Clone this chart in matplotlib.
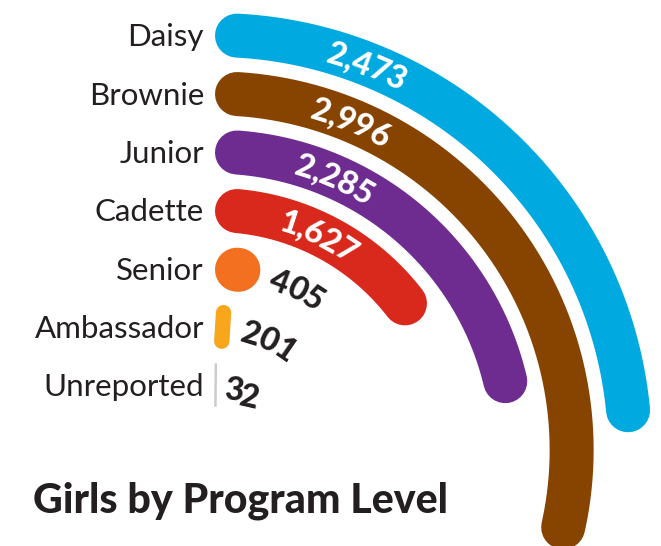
import numpy as np
import matplotlib.pyplot as plt
from matplotlib.font_manager import FontProperties

levels = ['Daisy', 'Brownie', 'Junior', 'Cadette', 'Senior', 'Ambassador', 'Unreported']
girls = [2473, 2996, 2285, 1627, 405, 201, 32]
value_labels = ['2,473', '2,996', '2,285', '1,627', '405', '201', '32']
colors = ['#00a9e0', '#874400', '#6e2b90', '#d9291c', '#f37021', '#f8a61c', '#cccccc']
title = 'Girls by Program Level'

FULL_TURN = 10170      # girls for a full circle
PT = 72 / 100          # points per pixel at dpi 100
W, H = 661, 546
cx, cy, R = 215, 450, 450   # centre of the arcs and half size of the polar box (pixels)
thick = 44
step = 58.33
inner = 65

fig = plt.figure(figsize=(W / 100, H / 100), dpi=100)
ax = fig.add_axes([(cx - R) / W, (H - cy - R) / H, 2 * R / W, 2 * R / H], projection='polar')
ax.set_theta_zero_location('N')
ax.set_theta_direction(-1)
ax.set_ylim(0, R)
ax.set_axis_off()

renderer = fig.canvas.get_renderer()
num_size = 23.5
num_font = FontProperties(family='Lato', weight=900, size=num_size)
num_cap = 0.72 * num_size / PT
lab_size = 22.5
lab_cap = 0.72 * lab_size / PT


def arc_text(s, start, r, color, tilt=1.0):
    # put each character along the arc, starting at arc length `start`
    widths = [0.0] + [renderer.get_text_width_height_descent(s[:k], num_font, ismath=False)[0]
                      for k in range(1, len(s) + 1)]
    for k, ch in enumerate(s):
        mid = start + (widths[k] + widths[k + 1]) / 2
        th = mid / r
        ax.text(th, r - num_cap / 2, ch, fontproperties=num_font, color=color,
                rotation=-np.degrees(th) * tilt, rotation_mode='anchor',
                ha='center', va='baseline')


n = len(levels)
for i, (name, val, lab, c) in enumerate(zip(levels, girls, value_labels, colors)):
    r = inner + step * (n - 1 - i)
    sweep = 2 * np.pi * val / FULL_TURN
    length = sweep * r
    if length >= thick:
        d = thick / 2 / r
        th = np.linspace(d, sweep - d, 200)
        ax.plot(th, np.full_like(th, r), color=c, lw=thick * PT, solid_capstyle='round')
    else:
        # too short for round ends: a small radial pill
        w = max(length, 2.5)
        ax.plot([sweep / 2, sweep / 2], [r - thick / 2 + w / 2, r + thick / 2 - w / 2],
                color=c, lw=w * PT, solid_capstyle='round')

    if length > 200:
        arc_text(lab, r * np.radians(15.8), r, 'white')
    else:
        # innermost label sits flatter in the original
        arc_text(lab, length + 12, r, '#231f20', tilt=1.0 if r > 100 else 0.35)

    ax.annotate(name, xy=(0, r), xytext=(-11, -lab_cap / 2), textcoords='offset pixels',
                ha='right', va='baseline', fontsize=lab_size, family='Lato', color='#231f20')

fig.text(33 / W, (H - 512) / H, title, fontsize=29.6, fontweight=900, family='Lato',
         color='#231f20', ha='left', va='baseline')

fig.savefig('out.png', dpi=100)
